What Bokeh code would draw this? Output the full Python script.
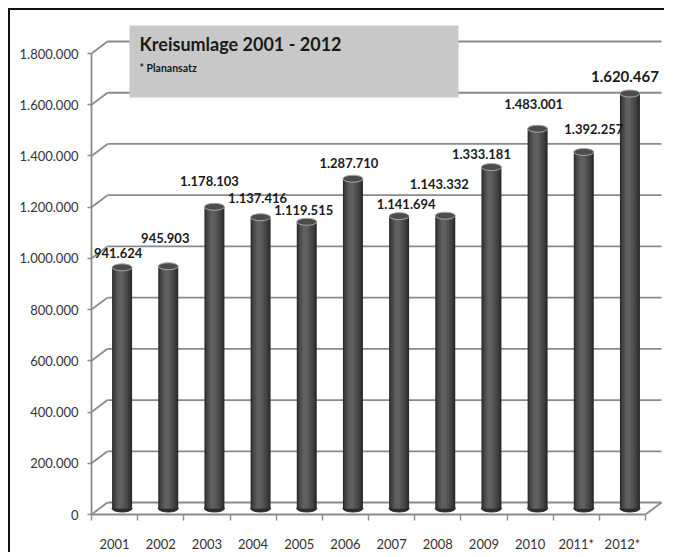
from bokeh.plotting import figure
from bokeh.models import Range1d, FixedTicker, CustomJSTickFormatter, ColumnDataSource
from bokeh.core.properties import value
from bokeh.embed import file_html
from bokeh.resources import INLINE

# ---------------- data ----------------
categories = ["2001", "2002", "2003", "2004", "2005", "2006",
              "2007", "2008", "2009", "2010", "2011*", "2012*"]
amounts = [941624, 945903, 1178103, 1137416, 1119515, 1287710,
           1141694, 1143332, 1333181, 1483001, 1392257, 1620467]
value_labels = ["941.624", "945.903", "1.178.103", "1.137.416", "1.119.515", "1.287.710",
                "1.141.694", "1.143.332", "1.333.181", "1.483.001", "1.392.257", "1.620.467"]
y_ticks = [0, 200000, 400000, 600000, 800000, 1000000, 1200000, 1400000, 1600000, 1800000]
y_tick_labels = ["0", "200.000", "400.000", "600.000", "800.000", "1.000.000",
                 "1.200.000", "1.400.000", "1.600.000", "1.800.000"]
title_text = "Kreisumlage 2001 - 2012"
subtitle_text = "* Planansatz"

# ---------------- layout / style constants (pixels) ----------------
W, H = 656, 544
LEFT, TOP, BOTTOM, RIGHT = 81, 4, 40, 4
FRAME_W = W - LEFT - RIGHT
FRAME_H = H - TOP - BOTTOM
PX_X = 46.17          # pixels per category
PX_Y = 256.1e-6       # pixels per unit value
BACK_DX, BACK_DY = 16, 12
MID_DX, MID_DY = 7.5, 6
BAR_W = 20 / PX_X
FONT = "Lato"
GRID_COLOR = "#8a8a8a"

# per-label offsets (pixels) and sizes (styles)
label_dx = [-4, -3, -5, -3, -3, -4, 7, -6, -10, -4, 10, -5]
label_dy = [-14, -28, -26, -19, -12, -16, -12, -32, -13, -25, -23, -17]
label_size = ["13px"] * 11 + ["15px"]

n = len(categories)
x_end = FRAME_W / PX_X
y_end = FRAME_H / PX_Y


def cx(px):   # canvas x -> front data x
    return (px - LEFT) / PX_X


def cy(py):   # canvas y -> front data y
    return (TOP + FRAME_H - py) / PX_Y


p = figure(width=W, height=H, output_backend="svg", toolbar_location=None,
           x_range=Range1d(0, x_end), y_range=Range1d(0, y_end),
           min_border_left=LEFT, min_border_top=TOP,
           min_border_bottom=BOTTOM, min_border_right=RIGHT)
p.extra_x_ranges = {
    "back": Range1d(-BACK_DX / PX_X, x_end - BACK_DX / PX_X),
    "mid": Range1d(-MID_DX / PX_X, x_end - MID_DX / PX_X),
}
p.extra_y_ranges = {
    "back": Range1d(-BACK_DY / PX_Y, y_end - BACK_DY / PX_Y),
    "mid": Range1d(-MID_DY / PX_Y, y_end - MID_DY / PX_Y),
}
p.outline_line_color = None
p.background_fill_color = "white"
p.border_fill_color = "white"
p.xgrid.visible = False
p.ygrid.visible = False
p.styles = {"border-left": "2px solid #111111", "border-top": "2px solid #111111",
            "margin-left": "8px", "margin-top": "8px"}

# ---------------- axes ----------------
centers = [i + 0.5 for i in range(n)]
xa = p.xaxis[0]
xa.ticker = FixedTicker(ticks=centers, minor_ticks=list(range(n + 1)))
xa.formatter = CustomJSTickFormatter(args=dict(cats=categories),
                                     code="return cats[Math.round(tick - 0.5)] || '';")
xa.bounds = (0, n)
xa.axis_line_color = GRID_COLOR
xa.axis_line_width = 1.8
xa.major_tick_line_color = None
xa.major_tick_out = 0
xa.major_tick_in = 0
xa.minor_tick_line_color = GRID_COLOR
xa.minor_tick_line_width = 1.4
xa.minor_tick_out = 6
xa.minor_tick_in = 0
xa.major_label_standoff = 15
xa.major_label_text_font = FONT
xa.major_label_text_font_size = "13px"
xa.major_label_text_color = "#333333"

ya = p.yaxis[0]
ya.ticker = FixedTicker(ticks=y_ticks)
ya.formatter = CustomJSTickFormatter(args=dict(yvals=y_ticks, ylabs=y_tick_labels),
                                     code="const i = yvals.indexOf(tick); return i >= 0 ? ylabs[i] : '';")
ya.bounds = (0, y_ticks[-1])
ya.axis_line_color = GRID_COLOR
ya.axis_line_width = 1.8
ya.major_tick_line_color = GRID_COLOR
ya.major_tick_line_width = 1.4
ya.major_tick_out = 4
ya.major_tick_in = 0
ya.minor_tick_line_color = None
ya.major_label_standoff = 9
ya.major_label_text_font = FONT
ya.major_label_text_font_size = "13px"
ya.major_label_text_color = "#333333"

# ---------------- walls / floor ----------------
p.segment(x0=[0] * len(y_ticks), x1=[n] * len(y_ticks), y0=y_ticks, y1=y_ticks,
          x_range_name="back", y_range_name="back",
          line_color=GRID_COLOR, line_width=1.8)
p.segment(x0=[0] * len(y_ticks), y0=y_ticks,
          x1=[BACK_DX / PX_X] * len(y_ticks), y1=[t + BACK_DY / PX_Y for t in y_ticks],
          line_color=GRID_COLOR, line_width=1.8)
p.segment(x0=[n], y0=[0], x1=[n + BACK_DX / PX_X], y1=[BACK_DY / PX_Y],
          line_color=GRID_COLOR, line_width=1.8)

# title box
p.quad(left=[cx(119)], right=[cx(448)], top=[cy(15)], bottom=[cy(87)],
       fill_color="#c8c8c8", line_color=None)
p.text(x=[cx(129)], y=[cy(33)], text=[title_text],
       text_font=value(FONT), text_font_style="bold",
       text_font_size=value("18px"), text_baseline="middle", text_align="left",
       text_color="#1a1a1a")
p.text(x=[cx(129)], y=[cy(57)], text=[subtitle_text],
       text_font=value(FONT), text_font_style="bold",
       text_font_size=value("10.5px"), text_baseline="middle", text_align="left",
       text_color="#1a1a1a")

# ---------------- cylinders ----------------
src = ColumnDataSource(dict(x=centers, top=amounts, lab=value_labels,
                            dx=label_dx, dy=label_dy, fs=label_size))
p.ellipse(x="x", y=0, width=BAR_W, height=7, height_units="screen", source=src,
          x_range_name="mid", y_range_name="mid",
          fill_color="#2b2b2b", line_color="#2b2b2b")
layers = [(1.0, 0.0, "#2c2c2c"), (0.86, -0.02, "#393939"), (0.70, -0.04, "#464646"),
          (0.50, -0.06, "#525252"), (0.28, -0.08, "#5f5f5f")]
for frac, shift, col in layers:
    p.vbar(x=[c + shift * BAR_W for c in centers], top=amounts, bottom=0,
           width=BAR_W * frac, x_range_name="mid", y_range_name="mid",
           fill_color=col, line_color=None)
p.ellipse(x="x", y="top", width=BAR_W, height=7, height_units="screen", source=src,
          x_range_name="mid", y_range_name="mid",
          fill_color="#4c4c4c", line_color="#a8a8a8", line_width=1)

# value labels
p.text(x="x", y="top", text="lab", x_offset="dx", y_offset="dy", source=src,
       x_range_name="mid", y_range_name="mid",
       text_font=value(FONT), text_font_style="bold", text_font_size="fs",
       text_align="center", text_baseline="middle", text_color="#1a1a1a")

open("out.html", "w").write(file_html(p, INLINE))
